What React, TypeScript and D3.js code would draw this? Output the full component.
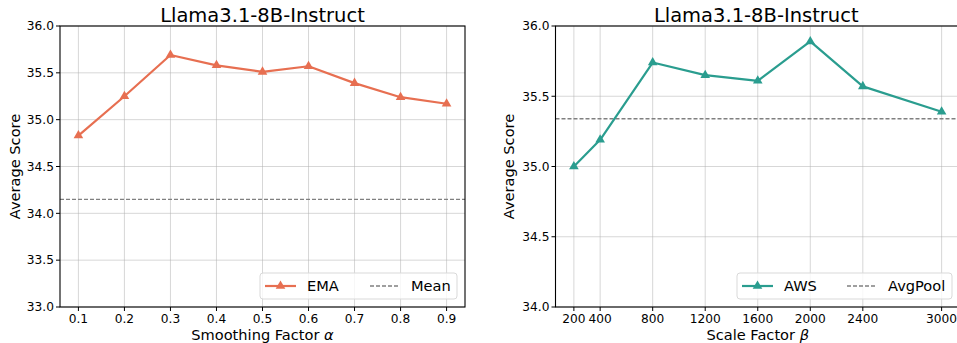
import React from "react";
import * as d3 from "d3";

const titleText = "Llama3.1-8B-Instruct";
const alphaValues = [0.1, 0.2, 0.3, 0.4, 0.5, 0.6, 0.7, 0.8, 0.9];
const emaScores = [34.83, 35.25, 35.69, 35.58, 35.51, 35.57, 35.39, 35.24, 35.17];
const meanScore = 34.15;
const leftYTicks = [33.0, 33.5, 34.0, 34.5, 35.0, 35.5, 36.0];

const betaValues = [200, 400, 800, 1200, 1600, 2000, 2400, 3000];
const awsScores = [35.0, 35.19, 35.74, 35.65, 35.61, 35.89, 35.57, 35.39];
const avgPoolScore = 35.34;
const rightYTicks = [34.0, 34.5, 35.0, 35.5, 36.0];

const FONT = "DejaVu Sans, sans-serif";

type PanelProps = {
  left: number;
  right: number;
  top: number;
  bottom: number;
  xs: number[];
  ys: number[];
  xDomain: [number, number];
  yDomain: [number, number];
  yTicks: number[];
  xTickFmt: (v: number) => string;
  refValue: number;
  color: string;
  xLabel: React.ReactNode;
  seriesName: string;
  refName: string;
  legendX: number;
  legendW: number;
  ylabelX: number;
};

function Panel(p: PanelProps) {
  const x = d3.scaleLinear().domain(p.xDomain).range([p.left, p.right]);
  const y = d3.scaleLinear().domain(p.yDomain).range([p.bottom, p.top]);
  const line = d3
    .line<number>()
    .x((_, i) => x(p.xs[i]))
    .y((d) => y(d));
  const tri = d3.symbol().type(d3.symbolTriangle).size(40)();
  const legendY = 273;
  const legendH = 26;
  const midY = legendY + legendH / 2;
  const lx = p.legendX;
  return (
    <g>
      {p.xs.map((v, i) => (
        <line key={"gx" + i} x1={x(v)} x2={x(v)} y1={p.top} y2={p.bottom} stroke="#b0b0b0" strokeOpacity={0.5} strokeWidth={1} />
      ))}
      {p.yTicks.map((v, i) => (
        <line key={"gy" + i} x1={p.left} x2={p.right} y1={y(v)} y2={y(v)} stroke="#b0b0b0" strokeOpacity={0.5} strokeWidth={1} />
      ))}
      <line x1={p.left} x2={p.right} y1={y(p.refValue)} y2={y(p.refValue)} stroke="#808080" strokeWidth={1.3} strokeDasharray="4,2" />
      <path d={line(p.ys) || ""} fill="none" stroke={p.color} strokeWidth={2.2} strokeLinejoin="round" />
      {p.ys.map((v, i) => (
        <path key={"m" + i} d={tri} transform={`translate(${x(p.xs[i])},${y(v)})`} fill={p.color} />
      ))}
      <rect x={p.left} y={p.top} width={p.right - p.left} height={p.bottom - p.top} fill="none" stroke="#000" strokeWidth={1.1} />
      {p.yTicks.map((v, i) => (
        <g key={"yt" + i}>
          <line x1={p.left - 4} x2={p.left} y1={y(v)} y2={y(v)} stroke="#000" strokeWidth={1} />
          <text x={p.left - 6} y={y(v)} dy="0.35em" textAnchor="end" fontSize={12.2} fontFamily={FONT} fill="#000">
            {v.toFixed(1)}
          </text>
        </g>
      ))}
      {p.xs.map((v, i) => (
        <g key={"xt" + i}>
          <line x1={x(v)} x2={x(v)} y1={p.bottom} y2={p.bottom + 4} stroke="#000" strokeWidth={1} />
          <text x={x(v)} y={p.bottom + 16} textAnchor="middle" fontSize={12.2} fontFamily={FONT} fill="#000">
            {p.xTickFmt(v)}
          </text>
        </g>
      ))}
      <text x={(p.left + Math.min(p.right, 957)) / 2} y={p.top - 4} textAnchor="middle" fontSize={19.5} fontFamily={FONT} fill="#000">
        {titleText}
      </text>
      <text x={(p.left + p.right) / 2} y={340} textAnchor="middle" fontSize={14.6} fontFamily={FONT} fill="#000">
        {p.xLabel}
      </text>
      <text transform={`translate(${p.ylabelX},${(p.top + p.bottom) / 2}) rotate(-90)`} textAnchor="middle" dy="0.35em" fontSize={14.6} fontFamily={FONT} fill="#000">
        Average Score
      </text>
      <rect x={lx} y={legendY} width={p.legendW} height={legendH} rx={3} fill="#fff" fillOpacity={0.8} stroke="#d9d9d9" strokeWidth={1} />
      <line x1={lx + 5} x2={lx + 36} y1={midY} y2={midY} stroke={p.color} strokeWidth={2.2} />
      <path d={tri} transform={`translate(${lx + 20.5},${midY})`} fill={p.color} />
      <text x={lx + 47} y={midY} dy="0.35em" fontSize={14.6} fontFamily={FONT} fill="#000">
        {p.seriesName}
      </text>
      <line x1={lx + 110} x2={lx + 140} y1={midY} y2={midY} stroke="#808080" strokeWidth={1.3} strokeDasharray="4,2" />
      <text x={lx + 151} y={midY} dy="0.35em" fontSize={14.6} fontFamily={FONT} fill="#000">
        {p.refName}
      </text>
    </g>
  );
}

export default function App() {
  const aExt = d3.extent(alphaValues) as [number, number];
  const aPad = (aExt[1] - aExt[0]) * 0.05;
  const bExt = d3.extent(betaValues) as [number, number];
  const bPad = (bExt[1] - bExt[0]) * 0.05;
  return (
    <svg width={957} height={343} style={{ position: "absolute", left: 0, top: 0, background: "#fff" }}>
      <rect width={957} height={343} fill="#fff" />
      <Panel
        left={60}
        right={465}
        top={26}
        bottom={307}
        xs={alphaValues}
        ys={emaScores}
        xDomain={[aExt[0] - aPad, aExt[1] + aPad]}
        yDomain={[33, 36]}
        yTicks={leftYTicks}
        xTickFmt={(v) => v.toFixed(1)}
        refValue={meanScore}
        color="#E76F51"
        xLabel={<>Smoothing Factor <tspan fontStyle="italic">α</tspan></>}
        seriesName="EMA"
        refName="Mean"
        legendX={260}
        legendW={197}
        ylabelX={15}
      />
      <Panel
        left={555.5}
        right={960}
        top={26}
        bottom={307}
        xs={betaValues}
        ys={awsScores}
        xDomain={[bExt[0] - bPad, bExt[1] + bPad]}
        yDomain={[34, 36]}
        yTicks={rightYTicks}
        xTickFmt={(v) => String(v)}
        refValue={avgPoolScore}
        color="#2A9D8F"
        xLabel={<>Scale Factor <tspan fontStyle="italic">β</tspan></>}
        seriesName="AWS"
        refName="AvgPool"
        legendX={737}
        legendW={215}
        ylabelX={509}
      />
    </svg>
  );
}
